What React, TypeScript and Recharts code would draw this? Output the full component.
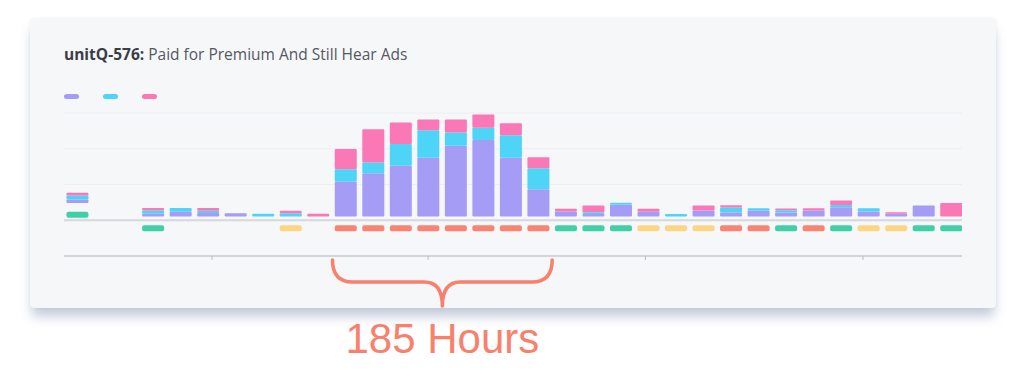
import React from "react"
import { Bar, BarChart, CartesianGrid, Legend, ReferenceArea, ReferenceLine, XAxis, YAxis } from "recharts"

// time slots (the first column is the earlier summary period)
const periods = [-2.75, 0, 1, 2, 3, 4, 5, 6, 7, 8, 9, 10, 11, 12, 13, 14, 15, 16, 17, 18, 19, 20, 21, 22, 23, 24, 25, 26, 27, 28, 29]

const channelA = [1.0, 0.8, 1.3, 1.0, 0.9, 0, 0, 0, 9.7, 12.1, 14.2, 16.4, 19.8, 21.4, 16.4, 7.6, 1.4, 0.7, 3.3, 1.3, 0, 1.7, 1.1, 1.6, 1.1, 1.7, 2.6, 1.4, 0.8, 3.1, 0]
const channelB = [1.1, 0.9, 1.1, 0.6, 0, 0.8, 0.9, 0, 3.5, 3.0, 6.1, 7.7, 3.7, 3.4, 6.3, 5.9, 0, 0.5, 0.55, 0, 0.7, 0, 1.4, 0.7, 0.65, 0, 0.65, 0.9, 0, 0, 0]
const channelC = [0.8, 0.7, 0, 0.8, 0, 0, 0.7, 0.75, 5.7, 9.3, 6.0, 3.0, 3.6, 3.7, 3.4, 3.1, 0.75, 1.9, 0, 0.9, 0, 1.4, 0.65, 0, 0.5, 0.6, 1.2, 0, 0.4, 0, 3.8]
const sentiment = [
  "positive", "positive", null, null, null, null, "neutral", null,
  "negative", "negative", "negative", "negative", "negative", "negative", "negative", "negative",
  "positive", "positive", "positive", "neutral", "neutral", "neutral", "negative", "negative",
  "positive", "negative", "positive", "neutral", "neutral", "positive", "positive",
]

const channelNames = ["Channel A", "Channel B", "Channel C"]
const axisTicks = [2.15, 10, 17.9, 25.8]
const gridTicks = [-10, 0, 10, 20, 30]
const peakStart = periods[8]
const peakEnd = periods[15]
const peakHours = 185

const data = periods.map((period, i) => ({
  period,
  a: channelA[i],
  b: channelB[i],
  c: channelC[i],
  sentiment: sentiment[i],
}))

const FONT = '"Liberation Sans", Arial, Helvetica, sans-serif'
const ANNOT = "#f8806d"
const moodColors: Record<string, string> = { positive: "#41cfa8", negative: "#fb8371", neutral: "#fdd683" }

const GAP = 3.75
const SUMMARY_LIFT = 13.5

function Segment(props: any) {
  const { x, y, width, height, fill, index } = props
  if (!height || height <= 0) return <g />
  const lift = GAP + (index === 0 ? SUMMARY_LIFT : 0)
  return <rect x={x} y={y - lift} width={width} height={height} fill={fill} rx={1} />
}

function MoodDash(props: any) {
  const { x, y, width, height, index, payload } = props
  const mood = payload?.sentiment
  if (!mood) return <g />
  const zero = Math.min(y, y + height)
  const top = zero + 5 - (index === 0 ? SUMMARY_LIFT : 0)
  return <rect x={x} y={top} width={width} height={6} rx={2} fill={moodColors[mood]} />
}

function Brace(props: any) {
  const { x, y, width, height } = props
  const left = x - 13
  const right = x + width + 14
  const top = y + height + 4
  const mid = top + 22
  const tip = top + 46
  const cx = (left + right) / 2
  const d = `M${left},${top} Q${left},${mid} ${left + 20},${mid} L${cx - 18},${mid} Q${cx},${mid} ${cx},${tip} Q${cx},${mid} ${cx + 18},${mid} L${right - 20},${mid} Q${right},${mid} ${right},${top}`
  return (
    <g>
      <path d={d} fill="none" stroke={ANNOT} strokeWidth={3.5} strokeLinecap="round" strokeLinejoin="round" />
      <text x={cx} y={tip + 47} textAnchor="middle" fontSize={42} fill={ANNOT} fontFamily={FONT}>
        {peakHours} Hours
      </text>
    </g>
  )
}

function DashLegend({ payload }: any) {
  const items = (payload || []).filter((p: any) => channelNames.includes(p.value))
  return (
    <div style={{ display: "flex", gap: 24 }}>
      {items.map((p: any) => (
        <span key={p.value} style={{ display: "block", width: 15, height: 5, borderRadius: 3, background: p.color }} />
      ))}
    </div>
  )
}

export default function App() {
  return (
    <div style={{ position: "relative", width: 1024, height: 382, background: "#fff", fontFamily: FONT, overflow: "hidden" }}>
      <style>{"body{margin:0}"}</style>
      <div
        style={{
          position: "absolute",
          left: 30,
          top: 18,
          width: 966,
          height: 290,
          background: "#f6f7f9",
          borderRadius: 4,
          boxShadow: "0 10px 12px -2px rgba(120,135,170,0.45), 0 0 3px rgba(0,0,0,0.05)",
        }}
      />
      <div
        style={{
          position: "absolute",
          left: 64,
          top: 46,
          fontFamily: '"Open Sans", Arial, sans-serif',
          fontSize: 15.5,
          lineHeight: "16px",
          color: "#545862",
          whiteSpace: "nowrap",
        }}
      >
        <b style={{ color: "#3a3d47" }}>unitQ-576:</b> Paid for Premium And Still Hear Ads
      </div>
      <div style={{ position: "absolute", left: 0, top: 0 }}>
        <BarChart width={1024} height={382} data={data} margin={{ top: 113, right: 62, bottom: 116, left: 64 }} barSize={22} stackOffset="sign">
          <CartesianGrid vertical={false} stroke="#eceef2" />
          <XAxis
            dataKey="period"
            type="number"
            domain={[-3.23, 29.4]}
            allowDataOverflow
            ticks={axisTicks}
            tickFormatter={() => ""}
            tickSize={4}
            tickLine={{ stroke: "#b8bcc3" }}
            axisLine={{ stroke: "#d3d6db", strokeWidth: 2 }}
            height={10}
          />
          <YAxis hide domain={[-10, 30]} ticks={gridTicks} allowDataOverflow />
          <Legend layout="horizontal" verticalAlign="middle" align="center" content={<DashLegend />} wrapperStyle={{ top: 94, left: 64, width: "auto" }} />
          <ReferenceLine y={0} stroke="#d5d8dd" strokeWidth={2} />
          <Bar dataKey="a" name={channelNames[0]} stackId="s" fill="#a59df5" shape={Segment} isAnimationActive={false} />
          <Bar dataKey="b" name={channelNames[1]} stackId="s" fill="#4ed4f7" shape={Segment} isAnimationActive={false} />
          <Bar dataKey="c" name={channelNames[2]} stackId="s" fill="#fa78b5" shape={Segment} isAnimationActive={false} />
          <Bar dataKey={(d: any) => (d.sentiment ? -1 : 0)} name="Sentiment" stackId="s" fill="#41cfa8" legendType="none" shape={MoodDash} isAnimationActive={false} />
          <ReferenceArea x1={peakStart} x2={peakEnd} y1={-10} y2={0} ifOverflow="visible" shape={Brace} />
        </BarChart>
      </div>
    </div>
  )
}
